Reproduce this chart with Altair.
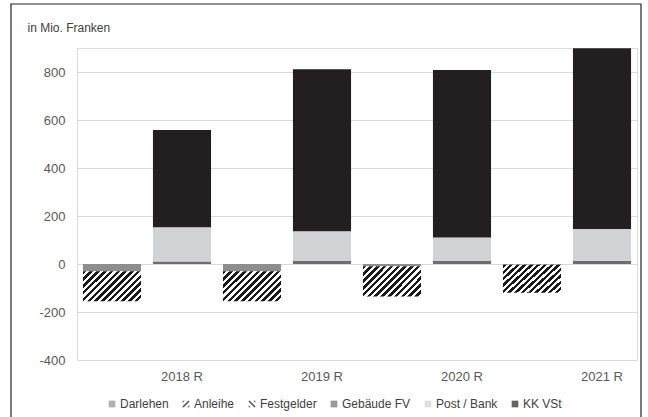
import altair as alt
import pandas as pd

# Jahre (Rechnung) und Kategorien
jahre = ["2018 R", "2019 R", "2020 R", "2021 R"]
kategorien = ["Darlehen", "Anleihe", "Festgelder", "Gebäude FV", "Post / Bank", "KK VSt"]

# Negative Seite (in Mio. Franken)
darlehen = [-30, -30, -9, -3]
anleihe = [-125, -125, -126, -117]
festgelder = [0, 0, 0, 0]

# Positive Seite (in Mio. Franken)
gebaeude_fv = [10, 12, 12, 14]
post_bank = [143, 124, 98, 132]
kk_vst = [405, 675, 698, 753]

farben = ["#8e8e8e", "#111111", "#111111", "#6d6d6d", "#d1d2d4", "#231f20"]
schraffiert = ["Anleihe", "Festgelder"]

# Stapel pro Jahr und Seite aufbauen
rows = []
for i, jahr in enumerate(jahre):
    for seite, serien in (
        ("neg", [("Darlehen", darlehen), ("Anleihe", anleihe), ("Festgelder", festgelder)]),
        ("pos", [("Gebäude FV", gebaeude_fv), ("Post / Bank", post_bank), ("KK VSt", kk_vst)]),
    ):
        basis = 0
        for name, werte in serien:
            w = werte[i]
            rows.append({"Jahr": jahr, "Seite": seite, "Kategorie": name,
                         "Wert": w, "y0": basis, "y1": basis + w})
            basis += w
df = pd.DataFrame(rows)

FONT = "Liberation Sans"

x_enc = alt.X(
    "Jahr:N", sort=jahre,
    scale=alt.Scale(domain=jahre, paddingInner=0, paddingOuter=0),
    axis=alt.Axis(title=None, labelAngle=0, labelOffset=35, labelPadding=10,
                  ticks=False, domain=False, grid=False, labelFontSize=13,
                  labelColor="#595959", labelFont=FONT),
)
xoff_enc = alt.XOffset(
    "Seite:N", scale=alt.Scale(domain=["neg", "pos"], paddingInner=0.17, paddingOuter=0.085)
)
y_enc = alt.Y(
    "y0:Q",
    scale=alt.Scale(domain=[-400, 900], nice=False, zero=False),
    axis=alt.Axis(values=[-400, -200, 0, 200, 400, 600, 800], grid=True,
                  gridColor="#d9d9d9", gridWidth=1, ticks=False, domain=False,
                  labelExpr="toString(datum.value)",
                  labelPadding=12, labelFontSize=13, labelColor="#595959", labelFont=FONT,
                  title="in Mio. Franken", titleAngle=0, titleX=-50, titleY=-21,
                  titleAlign="left", titleBaseline="middle", titleFontSize=12,
                  titleFontWeight="normal", titleColor="#404040", titleFont=FONT),
)
y2_enc = alt.Y2("y1:Q")

farbskala = alt.Scale(domain=kategorien, range=farben)

# Schraffur "/" als Streifenverlauf
n_streifen = 13
stops = []
for k in range(n_streifen):
    a = k / n_streifen
    b = (k + 0.52) / n_streifen
    c = (k + 1) / n_streifen
    stops += [
        alt.GradientStop(color="#1a1a1a", offset=a),
        alt.GradientStop(color="#1a1a1a", offset=b),
        alt.GradientStop(color="#ffffff", offset=b),
        alt.GradientStop(color="#ffffff", offset=c),
    ]
schraffur = alt.LinearGradient(gradient="linear", stops=stops, x1=0, y1=0, x2=1.197, y2=0.619)

# Legendensymbole: Quadrate bzw. Schraffur-Pfade
pfad_anleihe = ("M-1,0.65L0.65,-1L1,-1L1,-0.65L-0.65,1L-1,1Z"
                "M-1,-1L-0.35,-1L-1,-0.35Z M1,1L0.35,1L1,0.35Z")
pfad_festgelder = ("M1,0.65L-0.65,-1L-1,-1L-1,-0.65L0.65,1L1,1Z"
                   "M1,-1L0.35,-1L1,-0.35Z M-1,1L-0.35,1L-1,0.35Z")
formen = ["square", pfad_anleihe, pfad_festgelder, "square", "square", "square"]

legende = alt.Legend(title=None, orient="none", legendX=29, legendY=350,
                     direction="horizontal", symbolSize=45, symbolStrokeWidth=0,
                     labelFontSize=12, labelColor="#404040", labelFont=FONT,
                     labelOffset=2, columnPadding=11, padding=0)

basis = alt.Chart(df)

vollflaechen = basis.transform_filter(
    alt.FieldOneOfPredicate(field="Kategorie", oneOf=["Darlehen", "Gebäude FV", "Post / Bank", "KK VSt"])
).transform_filter("datum.Wert != 0").mark_bar().encode(
    x=x_enc, xOffset=xoff_enc, y=y_enc, y2=y2_enc,
    color=alt.Color("Kategorie:N", scale=farbskala, legend=legende),
)

schraffiert_bars = basis.transform_filter(
    alt.FieldOneOfPredicate(field="Kategorie", oneOf=schraffiert)
).transform_filter("datum.Wert != 0").mark_bar(color=schraffur).encode(
    x=x_enc, xOffset=xoff_enc, y=y_enc, y2=y2_enc,
)

legenden_layer = basis.transform_filter("false").mark_point(filled=True).encode(
    color=alt.Color("Kategorie:N", scale=farbskala, legend=legende),
    shape=alt.Shape("Kategorie:N", scale=alt.Scale(domain=kategorien, range=formen), legend=legende),
)

rahmen = alt.Chart(alt.Data(values=[{"r": 1}])).mark_rect(
    filled=False, stroke="#222222", strokeWidth=1.2
).encode(
    x=alt.value(-66), x2=alt.value(564), y=alt.value(-44), y2=alt.value(385)
)

chart = alt.layer(rahmen, vollflaechen, schraffiert_bars, legenden_layer).properties(
    width=560, height=312,
    autosize=alt.AutoSizeParams(type="none"),
    padding={"left": 77, "top": 48, "right": 11, "bottom": 57},
    background="white",
).configure_view(strokeWidth=0).configure(font=FONT)

chart.save("out.html", embed_options={"renderer": "svg", "actions": False})
